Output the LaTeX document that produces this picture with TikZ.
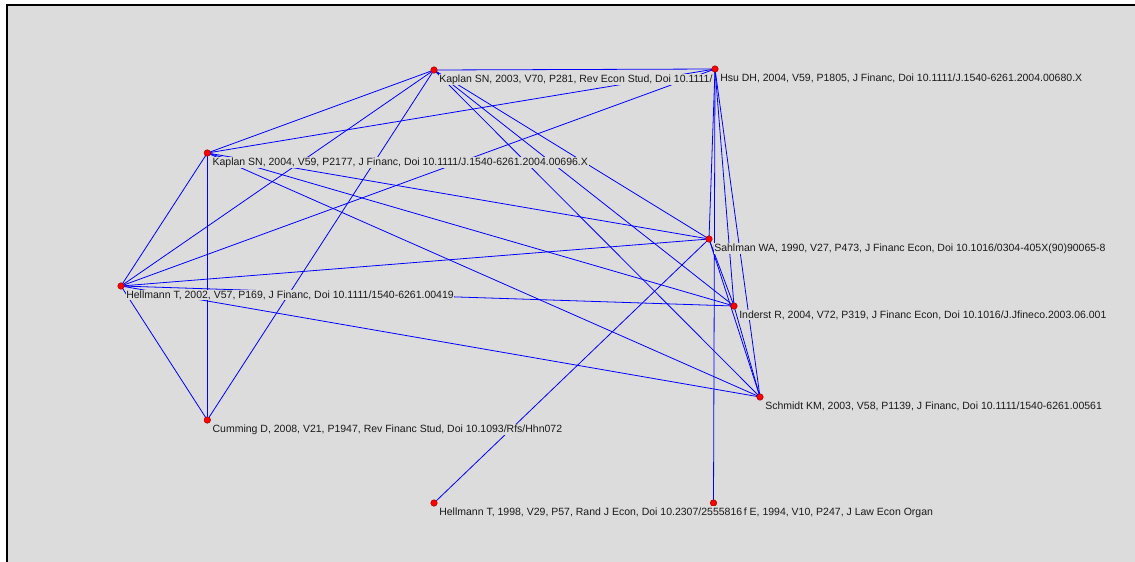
\documentclass[tikz,border=0pt]{standalone}
\usepackage{fontspec}
\setmainfont{Liberation Sans}
\definecolor{panelbg}{HTML}{DCDCDC}
\definecolor{edgeblue}{HTML}{0000FF}
\definecolor{dotred}{HTML}{FF0000}
\definecolor{dotedge}{HTML}{A00000}
\definecolor{txt}{HTML}{1A1A1A}
\tikzset{
  edge/.style={draw=edgeblue, line width=0.8pt},
  dot/.style={circle, fill=dotred, draw=dotedge, line width=0.5pt, inner sep=0pt, minimum size=6.5pt},
  lbl/.style={fill=panelbg, text=txt, inner sep=0.6pt, anchor=base west,
    font=\fontsize{10.5}{12}\selectfont},
}
\begin{document}
\begin{tikzpicture}[x=1pt,y=-1pt]
\useasboundingbox (0,0) rectangle (1135,562);
\fill[white] (0,0) rectangle (1135,562);
\fill[panelbg] (7,5) rectangle (1135,562);
\draw[black, line width=2pt] (7,562) -- (7,5) -- (1135,5);
% positions
\coordinate (A) at (434,70);
\coordinate (B) at (715,69);
\coordinate (C) at (207.3,153);
\coordinate (D) at (121,286);
\coordinate (E) at (709,239);
\coordinate (F) at (734,306);
\coordinate (G) at (760,397);
\coordinate (H) at (207.3,420);
\coordinate (I) at (434,503);
\coordinate (J) at (713.5,503);
% edges
\foreach \u/\v in {A/B,A/C,A/D,A/H,A/E,A/F,A/G,
                   B/C,B/D,B/E,B/F,B/G,B/J,
                   C/D,C/H,C/E,C/F,C/G,
                   D/H,D/E,D/F,D/G,
                   E/F,E/G,E/I,F/G}
  \draw[edge] (\u) -- (\v);
% dots
\foreach \n in {A,B,C,D,E,F,G,H,I,J}
  \node[dot] (d\n) at (\n) {};
% labels
\node[lbl] (lA) at ([xshift=4.5pt,yshift=-12pt]A) {Kaplan SN, 2003, V70, P281, Rev Econ Stud, Doi 10.1111/};
\node[lbl] (lB) at ([xshift=4.5pt,yshift=-12pt]B) {Hsu DH, 2004, V59, P1805, J Financ, Doi 10.1111/J.1540-6261.2004.00680.X};
\node[lbl] (lC) at ([xshift=4.5pt,yshift=-12pt]C) {Kaplan SN, 2004, V59, P2177, J Financ, Doi 10.1111/J.1540-6261.2004.00696.X};
\node[lbl] (lD) at ([xshift=4.5pt,yshift=-12pt]D) {Hellmann T, 2002, V57, P169, J Financ, Doi 10.1111/1540-6261.00419};
\node[lbl] (lE) at ([xshift=4.5pt,yshift=-12pt]E) {Sahlman WA, 1990, V27, P473, J Financ Econ, Doi 10.1016/0304-405X(90)90065-8};
\node[lbl] (lF) at ([xshift=4.5pt,yshift=-12pt]F) {Inderst R, 2004, V72, P319, J Financ Econ, Doi 10.1016/J.Jfineco.2003.06.001};
\node[lbl] (lG) at ([xshift=4.5pt,yshift=-12pt]G) {Schmidt KM, 2003, V58, P1139, J Financ, Doi 10.1111/1540-6261.00561};
\node[lbl] (lH) at ([xshift=4.5pt,yshift=-12pt]H) {Cumming D, 2008, V21, P1947, Rev Financ Stud, Doi 10.1093/Rfs/Hhn072};
\node[lbl, inner ysep=1.8pt] (lI) at ([xshift=4.5pt,yshift=-12pt]I) {Hellmann T, 1998, V29, P57, Rand J Econ, Doi 10.2307/2555816};
\node[lbl] (lJ) at (lI.base east) {f E, 1994, V10, P247, J Law Econ Organ};
\end{tikzpicture}
\end{document}
